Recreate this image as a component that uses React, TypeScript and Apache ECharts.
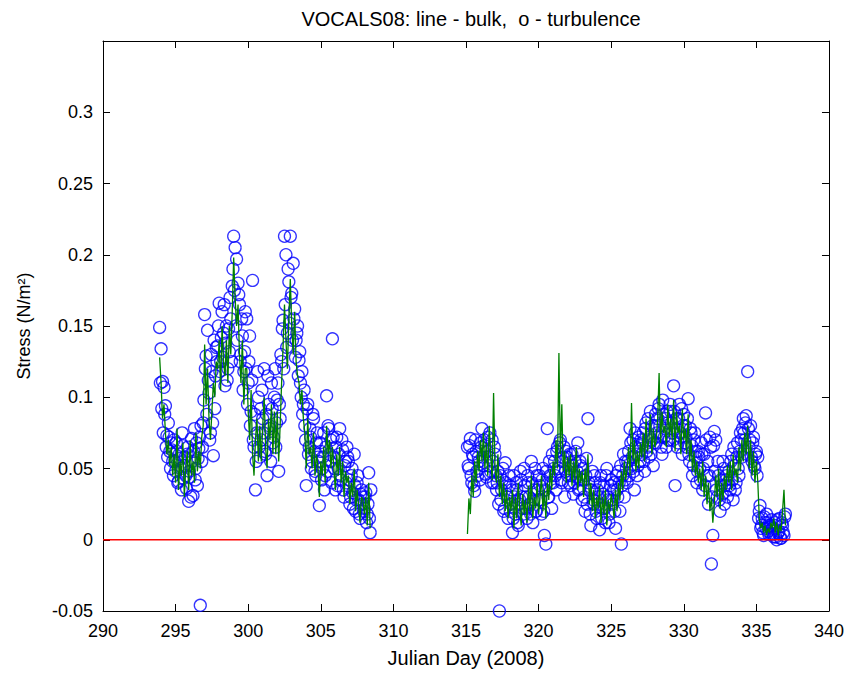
import React, { useEffect, useRef } from "react";
import * as echarts from "echarts";

// Julian-day axis ticks and stress axis ticks
const xTicks = [290, 295, 300, 305, 310, 315, 320, 325, 330, 335, 340];
const yTicks = [-0.05, 0, 0.05, 0.1, 0.15, 0.2, 0.25, 0.3];

// Turbulence (o) – first leg, sampled every 0.1 day from day 293.9
const turbStartA = 293.9;
const turbStressA = [
  0.149, 0.134, 0.111, 0.107, 0.094, 0.073, 0.082, 0.062, 0.068, 0.055,
  0.070, 0.048, 0.062, 0.041, 0.057, 0.035, 0.066, 0.052, 0.045, 0.060,
  0.027, 0.044, 0.071, 0.031, 0.078, 0.050, 0.038, 0.064, -0.046, 0.055,
  0.082, 0.158, 0.129, 0.147, 0.103, 0.075, 0.118, 0.059, 0.092, 0.135,
  0.136, 0.166, 0.125, 0.160, 0.145, 0.108, 0.150, 0.120, 0.132, 0.155,
  0.178, 0.213, 0.205, 0.197, 0.180, 0.165, 0.130, 0.143, 0.118, 0.160,
  0.155, 0.110, 0.143, 0.090, 0.182, 0.065, 0.035, 0.075, 0.100, 0.058,
  0.070, 0.085, 0.120, 0.060, 0.045, 0.095, 0.078, 0.110, 0.068, 0.100,
  0.065, 0.098, 0.048, 0.085, 0.125, 0.154, 0.213, 0.200, 0.145, 0.181,
  0.213, 0.173, 0.194, 0.162, 0.140, 0.150, 0.126, 0.110, 0.118, 0.095,
  0.080, 0.038, 0.095, 0.065, 0.072, 0.055, 0.085, 0.048, 0.068, 0.058,
  0.024, 0.062, 0.050, 0.075, 0.045, 0.101, 0.080, 0.060, 0.070, 0.141,
  0.058, 0.035, 0.072, 0.050, 0.078, 0.042, 0.063, 0.030, 0.055, 0.065,
  0.055, 0.025, 0.045, 0.033, 0.060, 0.020, 0.040, 0.028, 0.015, 0.035,
  0.030, 0.022, 0.033, 0.018, 0.047, 0.005,
];
// Turbulence (o) – first leg, interleaved samples from day 293.95
const turbStartA2 = 293.95;
const turbStressA2 = [
  0.110, 0.092, 0.075, 0.088, 0.065, 0.058, 0.072, 0.050, 0.063, 0.045,
  0.055, 0.068, 0.040, 0.060, 0.050, 0.075, 0.043, 0.058, 0.036, 0.065,
  0.048, 0.030, 0.055, 0.062, 0.042, 0.068, 0.057, 0.072, 0.080, 0.065,
  0.098, 0.120, 0.088, 0.112, 0.070, 0.130, 0.082, 0.140, 0.115, 0.125,
  0.150, 0.118, 0.142, 0.128, 0.165, 0.138, 0.112, 0.148, 0.170, 0.125,
  0.190, 0.175, 0.150, 0.140, 0.172, 0.125, 0.155, 0.105, 0.132, 0.120,
  0.095, 0.125, 0.080, 0.112, 0.070, 0.088, 0.055, 0.118, 0.065, 0.092,
  0.105, 0.075, 0.062, 0.088, 0.115, 0.080, 0.055, 0.092, 0.072, 0.120,
  0.082, 0.110, 0.095, 0.130, 0.148, 0.120, 0.165, 0.135, 0.190, 0.152,
  0.170, 0.140, 0.155, 0.128, 0.145, 0.115, 0.132, 0.100, 0.088, 0.105,
  0.070, 0.092, 0.060, 0.078, 0.050, 0.088, 0.062, 0.045, 0.075, 0.055,
  0.068, 0.042, 0.058, 0.035, 0.065, 0.048, 0.078, 0.055, 0.040, 0.072,
  0.050, 0.065, 0.038, 0.060, 0.045, 0.070, 0.035, 0.052, 0.040, 0.058,
  0.042, 0.030, 0.050, 0.022, 0.038, 0.028, 0.045, 0.018, 0.032, 0.025,
  0.020, 0.030, 0.012, 0.025, 0.015, 0.035,
];

// Turbulence (o) – second leg, every 0.1 day from day 315.1
const turbStartB = 315.1;
const turbStressB = [
  0.065, 0.050, 0.071, 0.040, 0.058, 0.034, 0.062, 0.045, 0.055, 0.068,
  0.078, 0.052, 0.066, 0.044, 0.072, 0.058, 0.048, 0.070, 0.040, 0.060,
  0.035, 0.048, -0.050, 0.028, 0.042, 0.020, 0.054, 0.032, 0.015, 0.038,
  0.025, 0.005, 0.045, 0.018, 0.035, 0.010, 0.028, 0.042, 0.022, 0.050,
  0.030, 0.015, 0.040, 0.025, 0.055, 0.012, 0.035, 0.020, 0.045, 0.028,
  0.038, 0.018, 0.050, 0.003, -0.003, 0.078, 0.030, 0.045, 0.022, 0.040,
  0.055, 0.035, 0.065, 0.048, 0.070, 0.040, 0.058, 0.030, 0.062, 0.045,
  0.050, 0.038, 0.060, 0.032, 0.055, 0.044, 0.068, 0.036, 0.052, 0.028,
  0.042, 0.020, 0.057, 0.085, 0.035, 0.010, 0.048, 0.025, 0.040, 0.015,
  0.030, 0.007, 0.045, 0.022, 0.038, 0.012, 0.050, 0.028, 0.018, 0.042,
  0.025, 0.040, 0.008, 0.035, 0.048, 0.020, -0.003, 0.045, 0.030, 0.055,
  0.040, 0.062, 0.078, 0.050, 0.070, 0.035, 0.065, 0.045, 0.072, 0.055,
  0.060, 0.075, 0.048, 0.082, 0.065, 0.058, 0.090, 0.070, 0.052, 0.080,
  0.068, 0.085, 0.095, 0.072, 0.060, 0.088, 0.078, 0.065, 0.082, 0.070,
  0.090, 0.075, 0.108, 0.038, 0.085, 0.068, 0.095, 0.072, 0.060, 0.088,
  0.080, 0.065, 0.099, 0.055, 0.075, 0.045, 0.070, 0.058, 0.040, 0.062,
  0.050, 0.068, 0.035, 0.060, 0.089, 0.045, 0.025, 0.072, -0.017, 0.003,
  0.076, 0.070, 0.030, 0.045, 0.020, 0.038, 0.055, 0.025, 0.042, 0.030,
  0.048, 0.035, 0.060, 0.028, 0.052, 0.040, 0.068, 0.045, 0.075, 0.058,
  0.085, 0.070, 0.087, 0.118, 0.065, 0.080, 0.055, 0.072, 0.050, 0.062,
  0.058, 0.020, 0.008, 0.015, 0.003, 0.012, 0.018, 0.006, 0.010, 0.004,
  0.008, 0.002, 0.012, 0.000, 0.005, 0.015, 0.001, 0.010, 0.003, 0.018,
];
// Turbulence (o) – second leg, interleaved samples from day 315.15
const turbStartB2 = 315.15;
const turbStressB2 = [
  0.052, 0.066, 0.045, 0.060, 0.038, 0.070, 0.048, 0.058, 0.042, 0.065,
  0.058, 0.070, 0.046, 0.062, 0.052, 0.075, 0.040, 0.055, 0.065, 0.045,
  0.040, 0.025, 0.045, 0.035, 0.050, 0.022, 0.040, 0.030, 0.045, 0.020,
  0.035, 0.015, 0.030, 0.040, 0.012, 0.025, 0.048, 0.030, 0.018, 0.038,
  0.022, 0.045, 0.030, 0.018, 0.040, 0.028, 0.050, 0.020, 0.035, 0.045,
  0.028, 0.042, 0.020, 0.035, 0.048, 0.030, 0.055, 0.040, 0.060, 0.050,
  0.045, 0.062, 0.050, 0.068, 0.042, 0.055, 0.065, 0.048, 0.058, 0.040,
  0.060, 0.045, 0.052, 0.040, 0.062, 0.048, 0.035, 0.055, 0.042, 0.050,
  0.030, 0.045, 0.025, 0.040, 0.018, 0.035, 0.028, 0.045, 0.020, 0.035,
  0.025, 0.040, 0.015, 0.032, 0.022, 0.045, 0.030, 0.012, 0.038, 0.028,
  0.035, 0.020, 0.045, 0.030, 0.040, 0.052, 0.038, 0.060, 0.042, 0.050,
  0.055, 0.045, 0.068, 0.058, 0.048, 0.075, 0.060, 0.052, 0.066, 0.070,
  0.068, 0.055, 0.078, 0.062, 0.085, 0.072, 0.060, 0.080, 0.068, 0.088,
  0.075, 0.092, 0.080, 0.065, 0.098, 0.072, 0.085, 0.090, 0.070, 0.095,
  0.082, 0.070, 0.090, 0.078, 0.065, 0.085, 0.075, 0.092, 0.080, 0.068,
  0.072, 0.085, 0.060, 0.078, 0.066, 0.052, 0.075, 0.062, 0.048, 0.058,
  0.042, 0.060, 0.050, 0.038, 0.070, 0.055, 0.045, 0.065, 0.030, 0.066,
  0.048, 0.035, 0.055, 0.028, 0.042, 0.032, 0.050, 0.038, 0.045, 0.040,
  0.038, 0.055, 0.042, 0.065, 0.035, 0.058, 0.050, 0.062, 0.070, 0.078,
  0.075, 0.082, 0.060, 0.078, 0.070, 0.058, 0.068, 0.052, 0.060, 0.045,
  0.015, 0.024, 0.010, 0.005, 0.016, 0.008, 0.012, 0.004, 0.009, 0.014,
  0.004, 0.010, 0.002, 0.014, 0.006, 0.001, 0.012, 0.005, 0.016,
];

// Bulk (line) – first leg, every 0.1 day from day 293.9
const bulkStartA = 293.9;
const bulkStressA = [
  0.128, 0.110, 0.085, 0.095, 0.075, 0.060, 0.070, 0.052, 0.065, 0.045,
  0.060, 0.040, 0.078, 0.035, 0.055, 0.045, 0.068, 0.030, 0.050, 0.062,
  0.035, 0.070, 0.045, 0.055, 0.040, 0.075, 0.048, 0.062, 0.050, 0.072,
  0.080, 0.137, 0.095, 0.120, 0.085, 0.070, 0.090, 0.110, 0.100, 0.125,
  0.120, 0.140, 0.105, 0.150, 0.125, 0.115, 0.140, 0.110, 0.150, 0.130,
  0.160, 0.198, 0.170, 0.150, 0.165, 0.130, 0.110, 0.140, 0.095, 0.120,
  0.120, 0.090, 0.070, 0.105, 0.060, 0.045, 0.070, 0.085, 0.055, 0.080,
  0.055, 0.080, 0.100, 0.065, 0.050, 0.085, 0.070, 0.095, 0.060, 0.090,
  0.060, 0.090, 0.055, 0.080, 0.110, 0.135, 0.165, 0.140, 0.120, 0.155,
  0.183, 0.150, 0.130, 0.160, 0.125, 0.115, 0.110, 0.095, 0.105, 0.085,
  0.075, 0.050, 0.085, 0.060, 0.065, 0.050, 0.075, 0.045, 0.060, 0.052,
  0.030, 0.055, 0.045, 0.065, 0.040, 0.080, 0.060, 0.070, 0.050, 0.065,
  0.050, 0.035, 0.060, 0.045, 0.065, 0.040, 0.055, 0.030, 0.048, 0.040,
  0.045, 0.025, 0.040, 0.030, 0.050, 0.020, 0.035, 0.025, 0.012, 0.030,
  0.028, 0.018, 0.030, 0.010, 0.040, 0.008,
];

// Bulk (line) – second leg, every 0.1 day from day 315.1
const bulkStartB = 315.1;
const bulkStressB = [
  0.004, 0.029, 0.018, 0.045, 0.030, 0.055, 0.040, 0.062, 0.048, 0.070,
  0.055, 0.075, 0.050, 0.068, 0.045, 0.080, 0.060, 0.042, 0.103, 0.050,
  0.040, 0.060, 0.030, 0.045, 0.025, 0.040, 0.020, 0.035, 0.015, 0.030,
  0.020, 0.035, 0.008, 0.030, 0.015, 0.040, 0.022, 0.010, 0.032, 0.018,
  0.028, 0.012, 0.038, 0.020, 0.045, 0.015, 0.030, 0.022, 0.040, 0.018,
  0.030, 0.045, 0.020, 0.035, 0.015, 0.040, 0.028, 0.050, 0.035, 0.055,
  0.045, 0.070, 0.050, 0.131, 0.060, 0.095, 0.048, 0.062, 0.040, 0.058,
  0.045, 0.060, 0.038, 0.055, 0.042, 0.065, 0.035, 0.050, 0.040, 0.048,
  0.030, 0.050, 0.038, 0.060, 0.025, 0.040, 0.020, 0.035, 0.015, 0.030,
  0.022, 0.038, 0.012, 0.030, 0.018, 0.035, 0.010, 0.028, 0.020, 0.032,
  0.025, 0.015, 0.035, 0.020, 0.040, 0.028, 0.048, 0.035, 0.055, 0.042,
  0.050, 0.065, 0.045, 0.096, 0.055, 0.070, 0.048, 0.062, 0.050, 0.068,
  0.058, 0.075, 0.055, 0.085, 0.062, 0.070, 0.088, 0.060, 0.078, 0.065,
  0.070, 0.085, 0.117, 0.068, 0.090, 0.075, 0.080, 0.065, 0.095, 0.072,
  0.085, 0.070, 0.098, 0.062, 0.090, 0.075, 0.080, 0.060, 0.092, 0.070,
  0.078, 0.060, 0.088, 0.055, 0.070, 0.048, 0.062, 0.045, 0.055, 0.040,
  0.050, 0.035, 0.055, 0.030, 0.045, 0.025, 0.040, 0.020, 0.030, 0.012,
  0.025, 0.045, 0.030, 0.050, 0.022, 0.040, 0.028, 0.045, 0.035, 0.052,
  0.040, 0.055, 0.035, 0.060, 0.045, 0.050, 0.040, 0.065, 0.048, 0.070,
  0.055, 0.075, 0.060, 0.080, 0.050, 0.070, 0.045, 0.062, 0.040, 0.055,
  0.040, 0.015, 0.008, 0.012, 0.005, 0.010, 0.003, 0.008, 0.005, 0.012,
  0.008, 0.015, 0.005, 0.012, 0.003, 0.010, 0.006, 0.020, 0.035, 0.010,
];

const SAMPLE_STEP = 0.1;
const zeroLine = [
  [290, 0],
  [340, 0],
];

function toPairs(start: number, values: number[]): number[][] {
  return values.map((v, i) => [Math.round((start + i * SAMPLE_STEP) * 1000) / 1000, v]);
}

const FONT = "'Liberation Sans', Arial, sans-serif";

export default function App() {
  const ref = useRef<HTMLDivElement>(null);

  useEffect(() => {
    if (!ref.current) return;
    const chart = echarts.init(ref.current, null, { renderer: "svg" });

    const tickStyle = { show: true, inside: true, length: 7, lineStyle: { color: "#000", width: 1 } };
    const axisLineStyle = { show: true, onZero: false, lineStyle: { color: "#000", width: 1 } };
    const labelStyle = { color: "#000", fontFamily: FONT, fontSize: 18 };

    const fmtY = (v: number) => {
      if (v > 0.34) return "";
      return String(Number(v.toFixed(2)));
    };

    const circleStyle = {
      color: "rgba(0,0,0,0)",
      borderColor: "#0000ff",
      borderWidth: 1.3,
    };

    const scatter = (name: string, data: number[][]) => ({
      name,
      type: "scatter",
      data,
      symbol: "circle",
      symbolSize: 12,
      itemStyle: circleStyle,
      z: 3,
    });

    const bulk = (name: string, data: number[][]) => ({
      name,
      type: "line",
      data,
      symbol: "none",
      color: "#008000",
      lineStyle: { color: "#008000", width: 1.3 },
      z: 4,
    });

    chart.setOption({
      animation: false,
      backgroundColor: "#ffffff",
      title: {
        text: "VOCALS08: line - bulk,  o - turbulence",
        left: 103 + (847 - 103 - 18) / 2,
        textAlign: "center",
        top: 4,
        textStyle: { color: "#000", fontFamily: FONT, fontSize: 20, fontWeight: "normal" },
      },
      grid: { left: 103, right: 18, top: 41, bottom: 59, containLabel: false },
      xAxis: [
        {
          type: "value",
          min: xTicks[0],
          max: xTicks[xTicks.length - 1],
          interval: xTicks[1] - xTicks[0],
          position: "bottom",
          name: "Julian Day (2008)",
          nameLocation: "middle",
          nameGap: 37,
          nameTextStyle: { color: "#000", fontFamily: FONT, fontSize: 20 },
          axisLine: axisLineStyle,
          axisTick: tickStyle,
          axisLabel: { ...labelStyle, margin: 11 },
          splitLine: { show: false },
        },
        {
          type: "value",
          min: xTicks[0],
          max: xTicks[xTicks.length - 1],
          interval: xTicks[1] - xTicks[0],
          position: "top",
          axisLine: axisLineStyle,
          axisTick: tickStyle,
          axisLabel: { show: false },
          splitLine: { show: false },
        },
      ],
      yAxis: [
        {
          type: "value",
          min: yTicks[0],
          max: 0.35,
          interval: yTicks[1] - yTicks[0],
          position: "left",
          name: "Stress (N/m²)",
          nameLocation: "middle",
          nameGap: 70,
          nameTextStyle: { color: "#000", fontFamily: FONT, fontSize: 18 },
          axisLine: axisLineStyle,
          axisTick: tickStyle,
          axisLabel: { ...labelStyle, margin: 10, formatter: fmtY, showMaxLabel: false },
          splitLine: { show: false },
        },
        {
          type: "value",
          min: yTicks[0],
          max: 0.35,
          interval: yTicks[1] - yTicks[0],
          position: "right",
          axisLine: axisLineStyle,
          axisTick: tickStyle,
          axisLabel: { show: false },
          splitLine: { show: false },
        },
      ],
      series: [
        scatter("turbulence A", toPairs(turbStartA, turbStressA)),
        scatter("turbulence A2", toPairs(turbStartA2, turbStressA2)),
        scatter("turbulence B", toPairs(turbStartB, turbStressB)),
        scatter("turbulence B2", toPairs(turbStartB2, turbStressB2)),
        bulk("bulk A", toPairs(bulkStartA, bulkStressA)),
        bulk("bulk B", toPairs(bulkStartB, bulkStressB)),
        {
          name: "zero",
          type: "line",
          data: zeroLine,
          symbol: "none",
          color: "#ff0000",
          itemStyle: { color: "#ff0000" },
          lineStyle: { color: "#ff0000", width: 1.3 },
          z: 5,
        },
      ],
    });

    return () => chart.dispose();
  }, []);

  return (
    <div
      ref={ref}
      style={{ position: "fixed", left: 0, top: 0, width: 847, height: 673, background: "#fff" }}
    />
  );
}
